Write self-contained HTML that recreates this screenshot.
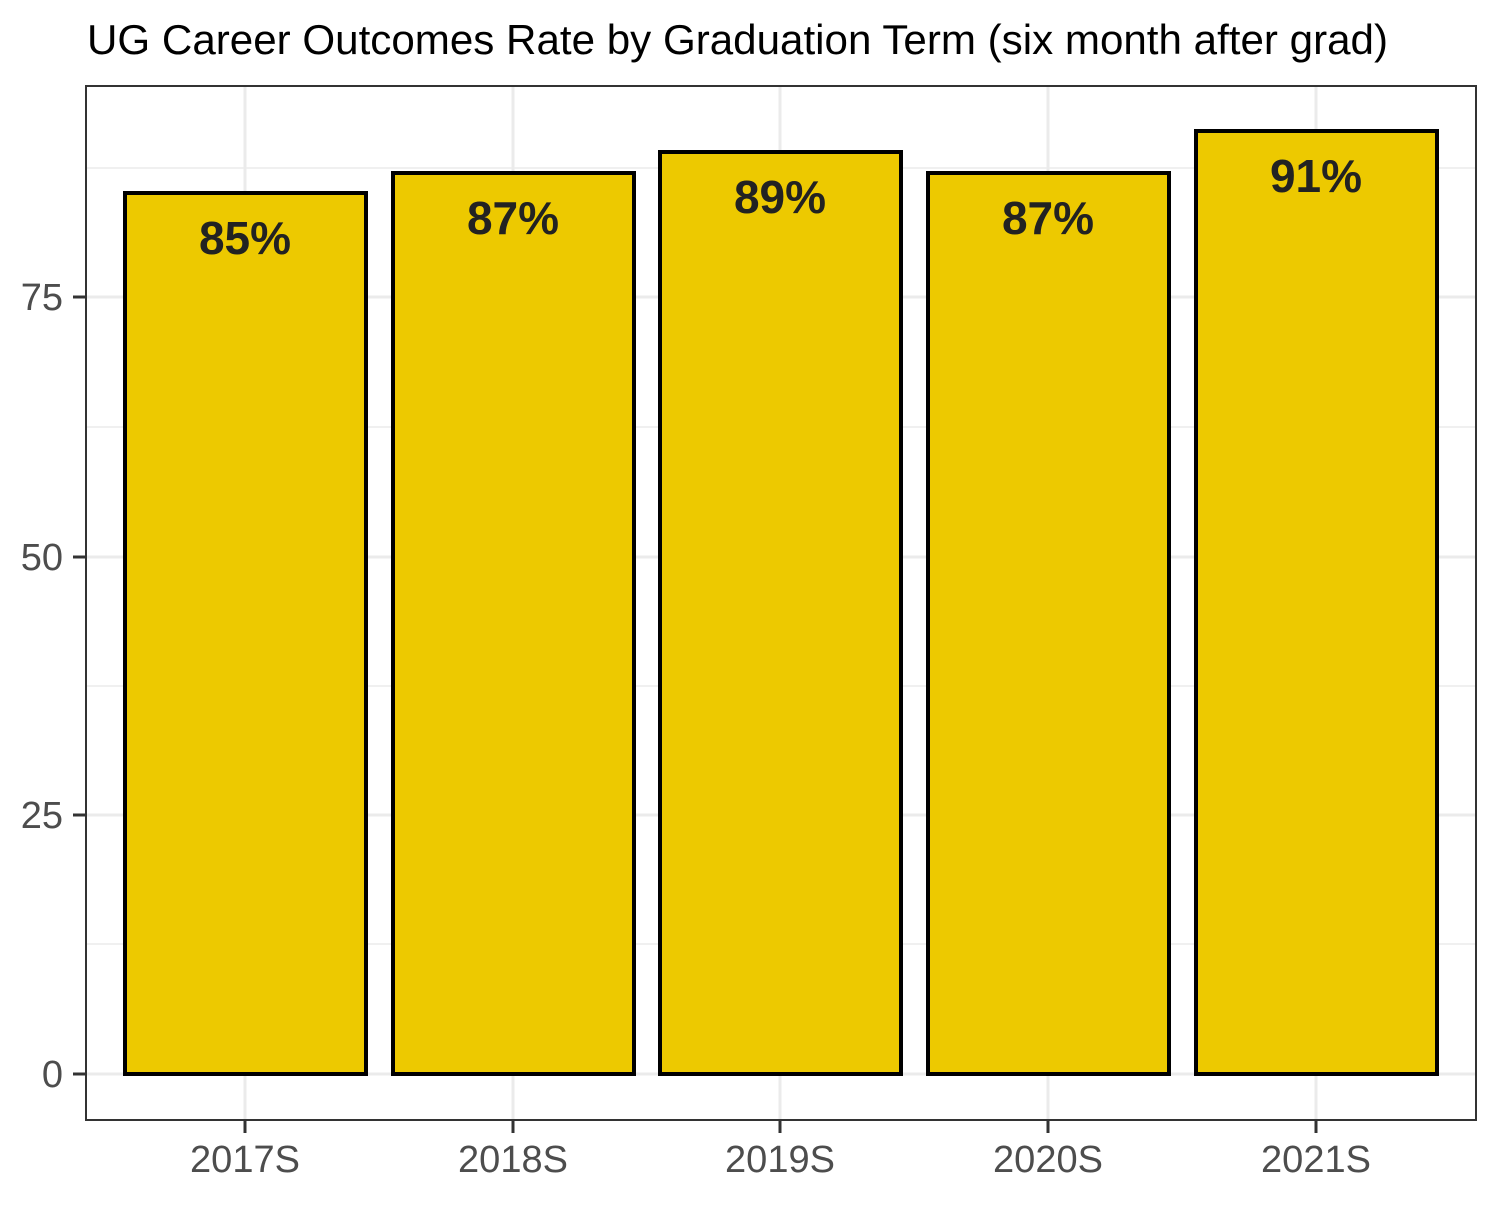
<!DOCTYPE html>
<html><head><meta charset="utf-8"><style>body{margin:0;background:#fff}</style></head><body>
<svg width="1500" height="1200" xmlns="http://www.w3.org/2000/svg" font-family="Liberation Sans, sans-serif">
<rect width="1500" height="1200" fill="#fff"/>
<text x="87" y="54" font-size="42" fill="#000" textLength="1301" lengthAdjust="spacingAndGlyphs">UG Career Outcomes Rate by Graduation Term (six month after grad)</text>
<g stroke="#ebebeb" stroke-width="1.5">
<line x1="86" x2="1476" y1="944" y2="944"/><line x1="86" x2="1476" y1="686" y2="686"/>
<line x1="86" x2="1476" y1="427" y2="427"/><line x1="86" x2="1476" y1="168" y2="168"/>
</g>
<g stroke="#ebebeb" stroke-width="3">
<line x1="86" x2="1476" y1="1074" y2="1074"/><line x1="86" x2="1476" y1="815" y2="815"/>
<line x1="86" x2="1476" y1="557" y2="557"/><line x1="86" x2="1476" y1="297" y2="297"/>
<line x1="245" x2="245" y1="86" y2="1120"/><line x1="513" x2="513" y1="86" y2="1120"/>
<line x1="780" x2="780" y1="86" y2="1120"/><line x1="1048" x2="1048" y1="86" y2="1120"/>
<line x1="1316" x2="1316" y1="86" y2="1120"/>
</g>
<g fill="#EDC900" stroke="#000" stroke-width="4">
<rect x="125" y="193" width="241" height="881"/>
<rect x="393" y="173" width="241" height="901"/>
<rect x="660" y="152" width="241" height="922"/>
<rect x="928" y="173" width="241" height="901"/>
<rect x="1196" y="131" width="241" height="943"/>
</g>
<g font-size="46" font-weight="bold" fill="#222" text-anchor="middle">
<text x="245" y="254">85%</text><text x="513" y="234">87%</text>
<text x="780" y="213">89%</text><text x="1048" y="234">87%</text>
<text x="1316" y="192">91%</text>
</g>
<rect x="86" y="86" width="1390" height="1034" fill="none" stroke="#333" stroke-width="2"/>
<g stroke="#333" stroke-width="3">
<line x1="73" x2="86" y1="1074" y2="1074"/><line x1="73" x2="86" y1="815" y2="815"/>
<line x1="73" x2="86" y1="557" y2="557"/><line x1="73" x2="86" y1="297" y2="297"/>
<line x1="245" x2="245" y1="1120" y2="1133"/><line x1="513" x2="513" y1="1120" y2="1133"/>
<line x1="780" x2="780" y1="1120" y2="1133"/><line x1="1048" x2="1048" y1="1120" y2="1133"/>
<line x1="1316" x2="1316" y1="1120" y2="1133"/>
</g>
<g font-size="38" fill="#4d4d4d" text-anchor="end">
<text x="63" y="1087">0</text><text x="63" y="828">25</text>
<text x="63" y="570">50</text><text x="63" y="310">75</text>
</g>
<g font-size="38" fill="#4d4d4d" text-anchor="middle">
<text x="245" y="1172">2017S</text><text x="513" y="1172">2018S</text>
<text x="780" y="1172">2019S</text><text x="1048" y="1172">2020S</text>
<text x="1316" y="1172">2021S</text>
</g>
</svg>
</body></html>
